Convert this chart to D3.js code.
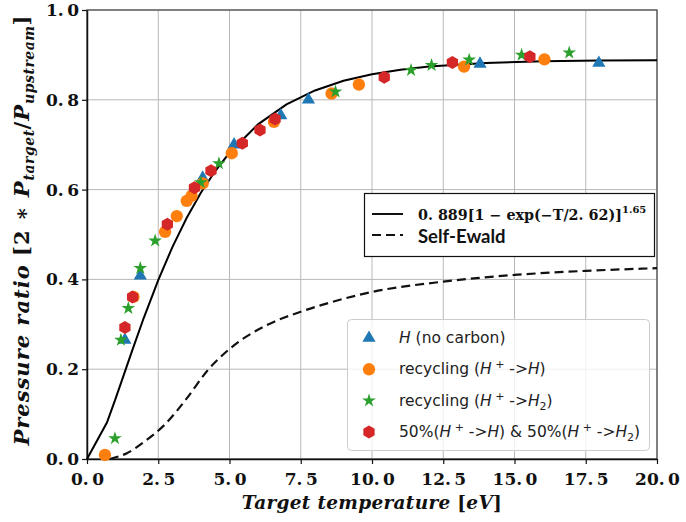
<!DOCTYPE html>
<html>
<head>
<meta charset="utf-8">
<script src="https://cdn.jsdelivr.net/npm/d3@7"></script>
<style>
  html, body { margin: 0; padding: 0; background: #fff; }
  svg { display: block; }
</style>
</head>
<body>
<script>
// measured points, [T (eV), pressure ratio]
const hNoCarbon = [[1.33, 0.265], [1.87, 0.408], [4.06, 0.626], [5.16, 0.70], [6.8, 0.765], [7.77, 0.80], [13.79, 0.88], [17.96, 0.882]];
const recycH = [[0.63, 0.009], [1.63, 0.361], [2.74, 0.506], [3.15, 0.541], [3.5, 0.575], [3.67, 0.586], [4.06, 0.614], [5.08, 0.681], [6.56, 0.751], [8.58, 0.814], [9.54, 0.834], [13.23, 0.874], [16.05, 0.89]];
const recycH2 = [[0.98, 0.046], [1.19, 0.265], [1.45, 0.336], [1.87, 0.425], [2.39, 0.486], [3.99, 0.616], [4.63, 0.658], [8.72, 0.818], [11.37, 0.866], [12.09, 0.877], [13.41, 0.889], [15.25, 0.90], [16.92, 0.905]];
const mixed = [[1.33, 0.293], [1.60, 0.361], [2.82, 0.523], [3.77, 0.604], [4.35, 0.642], [5.45, 0.703], [6.07, 0.733], [6.6, 0.757], [10.43, 0.85], [12.82, 0.883], [15.54, 0.896]];

// Self-Ewald curve
const selfEwald = [[0.8, 0], [1.4, 0.013], [2.0, 0.038], [2.75, 0.078], [3.5, 0.135], [4.2, 0.195], [5.0, 0.245], [6.3, 0.298], [7.5, 0.328], [8.5, 0.348], [10, 0.372], [12.5, 0.395], [15, 0.41], [17.5, 0.419], [20, 0.425]];

// fit from the legend: 0.889[1 - exp(-T/2.62)]^1.65
const fitA = 0.889, fitTau = 2.62, fitP = 1.65;
const fitT = [0, 0.7, 1, 1.3, 1.6, 2, 2.5, 3, 3.5, 4, 4.5, 5, 6, 7, 8, 9, 10, 11, 12, 14, 16, 18, 20];

const xTicks = [0, 2.5, 5, 7.5, 10, 12.5, 15, 17.5, 20];
const yTicks = [0, 0.2, 0.4, 0.6, 0.8, 1.0];

const width = 686, height = 522;
const margin = { top: 10, right: 29, bottom: 63, left: 87 };
const innerWidth = width - margin.left - margin.right;
const innerHeight = height - margin.top - margin.bottom;

const svg = d3.select('body').append('svg')
    .attr('width', width)
    .attr('height', height);
const g = svg.append('g').attr('transform', `translate(${margin.left},${margin.top})`);

const xScale = d3.scaleLinear().domain([0, 20]).range([0, innerWidth]);
const yScale = d3.scaleLinear().domain([0, 1]).range([innerHeight, 0]);

// grid
g.append('g').selectAll('line').data(xTicks).join('line')
    .attr('x1', d => xScale(d)).attr('x2', d => xScale(d))
    .attr('y1', 0).attr('y2', innerHeight)
    .attr('stroke', '#b8b8b8').attr('stroke-width', 1);
g.append('g').selectAll('line').data(yTicks).join('line')
    .attr('y1', d => yScale(d)).attr('y2', d => yScale(d))
    .attr('x1', 0).attr('x2', innerWidth)
    .attr('stroke', '#b8b8b8').attr('stroke-width', 1);

// frame
g.append('rect')
    .attr('width', innerWidth).attr('height', innerHeight)
    .attr('fill', 'none').attr('stroke', '#444').attr('stroke-width', 1.2);

// tick labels look like "0. 8" in the original (mathtext spacing)
const tickFmt = d => d.toFixed(1).replace('.', '.\u2009');
const xAxis = g.append('g')
    .attr('transform', `translate(0,${innerHeight})`)
    .call(d3.axisBottom(xScale).tickValues(xTicks).tickFormat(tickFmt).tickSize(5).tickSizeOuter(0));
const yAxis = g.append('g')
    .call(d3.axisLeft(yScale).tickValues(yTicks).tickFormat(tickFmt).tickSize(5).tickSizeOuter(0));
[xAxis, yAxis].forEach(a => {
    a.select('.domain').attr('stroke', '#111').attr('stroke-width', 1.5);
    a.selectAll('.tick line').attr('stroke', '#111').attr('stroke-width', 1.2);
    a.selectAll('.tick text')
        .attr('font-family', 'DejaVu Serif').attr('font-weight', 'bold')
        .attr('font-size', 17).attr('fill', '#111');
});
xAxis.selectAll('.tick text').attr('dy', '1.05em');
yAxis.selectAll('.tick text').attr('x', -8);

// lines
const fitData = fitT.map(t => [t, fitA * Math.pow(1 - Math.exp(-t / fitTau), fitP)]);
g.append('path').datum(fitData)
    .attr('d', d3.line().x(d => xScale(d[0])).y(d => yScale(d[1])))
    .attr('fill', 'none').attr('stroke', '#000').attr('stroke-width', 2);
g.append('path').datum(selfEwald)
    .attr('d', d3.line().x(d => xScale(d[0])).y(d => yScale(d[1])).curve(d3.curveMonotoneX))
    .attr('fill', 'none').attr('stroke', '#111').attr('stroke-width', 2.2)
    .attr('stroke-dasharray', '9,5');

// hexagon with a vertex on top (matplotlib 'h')
const hexagon = {
    draw(ctx, size) {
        const r = Math.sqrt(size / (1.5 * Math.sqrt(3)));
        for (let i = 0; i < 6; i++) {
            const a = Math.PI / 3 * i - Math.PI / 2;
            if (i === 0) ctx.moveTo(r * Math.cos(a), r * Math.sin(a));
            else ctx.lineTo(r * Math.cos(a), r * Math.sin(a));
        }
        ctx.closePath();
    }
};

const series = [
    { data: hNoCarbon, color: '#1f77b4', type: d3.symbolTriangle, size: 75 },
    { data: recycH, color: '#ff7f0e', type: d3.symbolCircle, size: 120 },
    { data: recycH2, color: '#2ca02c', type: d3.symbolStar, size: 58 },
    { data: mixed, color: '#d62728', type: hexagon, size: 110 }
];

series.forEach(s => {
    g.append('g').selectAll('path').data(s.data).join('path')
        .attr('transform', d => `translate(${xScale(d[0])},${yScale(d[1])})`)
        .attr('d', d3.symbol().type(s.type).size(s.size))
        .attr('fill', s.color);
});

// axis titles
const xl = svg.append('text')
    .attr('x', margin.left + innerWidth / 2).attr('y', 509)
    .attr('text-anchor', 'middle')
    .attr('font-family', 'DejaVu Serif').attr('font-weight', 'bold').attr('font-style', 'italic')
    .attr('font-size', 18.5).attr('letter-spacing', 0.3).attr('fill', '#111');
xl.append('tspan').text('Target temperature ');
xl.append('tspan').attr('font-style', 'normal').text('[');
xl.append('tspan').text('eV');
xl.append('tspan').attr('font-style', 'normal').text(']');

const yl = svg.append('text')
    .attr('transform', 'translate(29,230) rotate(-90)')
    .attr('text-anchor', 'middle')
    .attr('font-family', 'DejaVu Serif').attr('font-weight', 'bold').attr('font-style', 'italic')
    .attr('font-size', 21).attr('letter-spacing', 1).attr('fill', '#111');
yl.append('tspan').text('Pressure ratio ');
yl.append('tspan').attr('font-style', 'normal').text('[2 ∗ ');
yl.append('tspan').text('P');
yl.append('tspan').attr('font-size', 14).attr('letter-spacing', 0.5).attr('dy', 5).text('target');
yl.append('tspan').attr('dy', -5).attr('font-style', 'normal').text('/');
yl.append('tspan').text('P');
yl.append('tspan').attr('font-size', 14).attr('letter-spacing', 0.5).attr('dy', 5).text('upstream');
yl.append('tspan').attr('dy', -5).attr('font-style', 'normal').text(']');

// upper legend (fit / Self-Ewald)
const lg1 = svg.append('g');
lg1.append('rect')
    .attr('x', 364.5).attr('y', 193.5).attr('width', 290).attr('height', 63)
    .attr('fill', '#fff').attr('stroke', '#111').attr('stroke-width', 1.2);
lg1.append('line').attr('x1', 372).attr('x2', 403).attr('y1', 214).attr('y2', 214)
    .attr('stroke', '#111').attr('stroke-width', 2);
lg1.append('line').attr('x1', 372).attr('x2', 403).attr('y1', 235).attr('y2', 235)
    .attr('stroke', '#111').attr('stroke-width', 2.2).attr('stroke-dasharray', '9,5');
const ft = lg1.append('text').attr('x', 418).attr('y', 220)
    .attr('font-family', 'DejaVu Serif').attr('font-weight', 'bold')
    .attr('font-size', 14.3).attr('fill', '#111');
ft.append('tspan').text('0. 889[1 − exp(−T/2. 62)]');
ft.append('tspan').attr('font-size', 10).attr('dy', -7).text('1.65');
lg1.append('text').attr('x', 418).attr('y', 243)
    .attr('font-family', 'Lato').attr('font-weight', 'bold')
    .attr('font-size', 18.5).attr('fill', '#111').text('Self-Ewald');

// lower legend (markers); parts: [text, kind] with kind i=italic, n=normal, sup, sub
const labels = [
    [['H', 'i'], [' (no carbon)', 'n']],
    [['recycling (', 'n'], ['H', 'i'], [' +', 'sup'], [' ->', 'n'], ['H', 'i'], [')', 'n']],
    [['recycling (', 'n'], ['H', 'i'], [' +', 'sup'], [' ->', 'n'], ['H', 'i'], ['2', 'sub'], [')', 'n']],
    [['50%(', 'n'], ['H', 'i'], [' +', 'sup'], [' ->', 'n'], ['H', 'i'], [') & 50%(', 'n'], ['H', 'i'], [' +', 'sup'], [' ->', 'n'], ['H', 'i'], ['2', 'sub'], [')', 'n']]
];
const lg2 = svg.append('g');
lg2.append('rect')
    .attr('x', 347.5).attr('y', 319.5).attr('width', 302).attr('height', 131).attr('rx', 4)
    .attr('fill', '#fff').attr('fill-opacity', 0.8).attr('stroke', '#ccc');
series.forEach((s, i) => {
    const yy = 338 + i * 31.3;
    lg2.append('path')
        .attr('transform', `translate(369,${yy})`)
        .attr('d', d3.symbol().type(s.type).size(s.size))
        .attr('fill', s.color);
    const t = lg2.append('text').attr('x', 399).attr('y', yy + 5)
        .attr('font-family', 'DejaVu Sans').attr('font-size', 15.5).attr('fill', '#222');
    let shift = 0;
    labels[i].forEach(p => {
        const ts = t.append('tspan').text(p[0]);
        let target = 0;
        if (p[1] === 'i') ts.attr('font-style', 'italic');
        if (p[1] === 'sup') { ts.attr('font-size', 11); target = -6; }
        if (p[1] === 'sub') { ts.attr('font-size', 11); target = 4; }
        if (target !== shift) { ts.attr('dy', target - shift); shift = target; }
    });
});
</script>
</body>
</html>
